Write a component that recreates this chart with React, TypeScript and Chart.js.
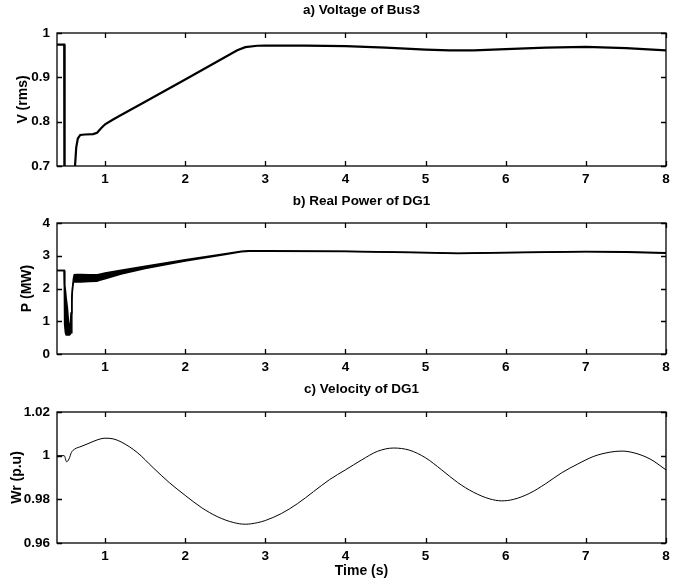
import React, { useEffect, useRef } from "react";
import { Chart, registerables } from "chart.js";

Chart.register(...registerables);

// ---------- data ----------
const timeTicks = [1, 2, 3, 4, 5, 6, 7, 8];

// a) Voltage of Bus3
const vTime = [0.4, 0.49, 0.495, 0.6, 0.625, 0.64, 0.66, 0.69, 0.75, 0.85, 0.9, 0.95, 1.0, 1.1, 1.2, 1.5, 2.0, 2.5, 2.65, 2.75, 2.9, 3.0, 3.5, 4.0, 4.5, 5.0, 5.3, 5.6, 6.0, 6.5, 7.0, 7.5, 8.0];
const vValues = [0.974, 0.974, 0.3, 0.3, 0.7, 0.742, 0.762, 0.77, 0.771, 0.772, 0.775, 0.785, 0.794, 0.805, 0.815, 0.845, 0.895, 0.946, 0.961, 0.968, 0.9712, 0.9718, 0.9715, 0.9705, 0.967, 0.9625, 0.9607, 0.961, 0.9635, 0.967, 0.9686, 0.966, 0.961];
const vTicks = [0.7, 0.8, 0.9, 1];

// b) Real Power of DG1 (oscillation band given by its upper and lower envelope)
const pTime = [0.4, 0.49, 0.495, 0.505, 0.515, 0.53, 0.545, 0.555, 0.565, 0.575, 0.585, 0.595, 0.605, 0.615, 0.65, 0.7, 0.8, 0.9, 0.92, 1.0, 1.2, 1.5, 2.0, 2.5, 2.7, 2.8, 3.0, 4.0, 5.0, 5.4, 6.0, 7.0, 7.5, 8.0];
const pUpper = [2.55, 2.55, 2.1, 1.95, 1.7, 1.4, 0.95, 0.9, 0.85, 1.25, 1.75, 2.05, 2.3, 2.42, 2.43, 2.43, 2.42, 2.42, 2.43, 2.47, 2.56, 2.68, 2.88, 3.06, 3.14, 3.15, 3.15, 3.14, 3.1, 3.08, 3.1, 3.13, 3.12, 3.09];
const pLower = [2.55, 2.55, 0.9, 0.65, 0.58, 0.58, 0.58, 0.58, 0.6, 0.65, 1.6, 2.05, 2.18, 2.2, 2.2, 2.2, 2.21, 2.22, 2.24, 2.3, 2.44, 2.61, 2.84, 3.04, 3.12, 3.14, 3.14, 3.13, 3.09, 3.07, 3.09, 3.12, 3.11, 3.08];
const pTicks = [0, 1, 2, 3, 4];

// c) Velocity of DG1
const wTime = [0.4, 0.49, 0.52, 0.55, 0.58, 0.62, 0.7, 0.8, 0.9, 1.0, 1.1, 1.2, 1.4, 1.6, 1.8, 2.0, 2.2, 2.4, 2.6, 2.75, 2.9, 3.0, 3.2, 3.4, 3.6, 3.8, 4.0, 4.2, 4.4, 4.6, 4.8, 5.0, 5.2, 5.4, 5.6, 5.8, 5.95, 6.1, 6.3, 6.5, 6.7, 6.9, 7.1, 7.3, 7.45, 7.6, 7.8, 8.0];
const wValues = [1.0, 1.0, 0.9972, 0.9985, 1.0015, 1.003, 1.0042, 1.0057, 1.0072, 1.008, 1.0077, 1.0063, 1.0015, 0.9945, 0.9877, 0.9818, 0.9763, 0.9721, 0.9694, 0.9686, 0.9693, 0.9703, 0.9735, 0.978, 0.9835, 0.989, 0.9935, 0.998, 1.002, 1.0035, 1.0025, 0.999, 0.9935, 0.9877, 0.9832, 0.9802, 0.9793, 0.98, 0.9828, 0.9872, 0.9922, 0.9962, 0.9997, 1.0016, 1.0021, 1.0013, 0.9985, 0.9935];
const wTicks = [0.96, 0.98, 1, 1.02];

// ---------- helpers ----------
const FONT = "'Liberation Sans', Arial, Helvetica, sans-serif";
const toPoints = (xs: number[], ys: number[]) => xs.map((x, i) => ({ x, y: ys[i] }));

const boxPlugin = {
  id: "matlabBox",
  afterDatasetsDraw(chart: any) {
    const { ctx, chartArea: a, scales } = chart;
    ctx.save();
    ctx.strokeStyle = "#000";
    ctx.lineWidth = 1.3;
    ctx.strokeRect(a.left, a.top, a.right - a.left, a.bottom - a.top);
    ctx.beginPath();
    const L = 5;
    scales.x.ticks.forEach((t: any) => {
      const px = Math.round(scales.x.getPixelForValue(t.value)) + 0.5;
      ctx.moveTo(px, a.bottom);
      ctx.lineTo(px, a.bottom - L);
      ctx.moveTo(px, a.top);
      ctx.lineTo(px, a.top + L);
    });
    scales.y.ticks.forEach((t: any) => {
      const py = Math.round(scales.y.getPixelForValue(t.value)) + 0.5;
      ctx.moveTo(a.left, py);
      ctx.lineTo(a.left + L, py);
      ctx.moveTo(a.right, py);
      ctx.lineTo(a.right - L, py);
    });
    ctx.stroke();
    ctx.restore();
  },
};

type PanelCfg = {
  top: number;
  height: number;
  plotTop: number;
  plotBottom: number;
  titleY: number;
  title: string;
  yTitle: string;
  yTitlePad: number;
  yMin: number;
  yMax: number;
  yTicks: number[];
  datasets: any[];
  xTitle?: string;
};

function makeConfig(p: PanelCfg): any {
  const lh = 13.5 * 1.2;
  const padTop = p.titleY - p.top - lh / 2;
  const padBottom = p.plotTop - p.top - padTop - lh;
  const xHeight = p.top + p.height - p.plotBottom;
  return {
    type: "line",
    data: { datasets: p.datasets },
    plugins: [boxPlugin],
    options: {
      animation: false,
      responsive: false,
      layout: { padding: { left: 0, right: 16, top: 0, bottom: 0 } },
      plugins: {
        legend: { display: false },
        tooltip: { enabled: false },
        title: {
          display: true,
          text: p.title,
          fullSize: false,
          color: "#000",
          font: { family: FONT, size: 13.5, weight: "bold" },
          padding: { top: padTop, bottom: padBottom },
        },
      },
      elements: { point: { radius: 0 } },
      scales: {
        x: {
          type: "linear",
          min: 0.4,
          max: 8,
          grid: { display: false, drawTicks: false },
          border: { display: false },
          afterBuildTicks: (s: any) => {
            s.ticks = timeTicks.map((v) => ({ value: v }));
          },
          afterFit: (s: any) => {
            s.height = xHeight;
          },
          ticks: {
            color: "#000",
            padding: 5,
            maxRotation: 0,
            autoSkip: false,
            callback: (v: any) => String(v),
            font: { family: FONT, size: 13.5, weight: "bold" },
          },
          title: p.xTitle
            ? {
                display: true,
                text: p.xTitle,
                color: "#000",
                font: { family: FONT, size: 14, weight: "bold" },
                padding: { top: 0, bottom: 2.5 },
              }
            : { display: false },
        },
        y: {
          type: "linear",
          min: p.yMin,
          max: p.yMax,
          grid: { display: false, drawTicks: false },
          border: { display: false },
          afterBuildTicks: (s: any) => {
            s.ticks = p.yTicks.map((v) => ({ value: v }));
          },
          afterFit: (s: any) => {
            s.width = 57;
          },
          ticks: {
            color: "#000",
            padding: 7,
            autoSkip: false,
            callback: (v: any) => String(Number(Number(v).toFixed(4))),
            font: { family: FONT, size: 13.5, weight: "bold" },
          },
          title: {
            display: true,
            text: p.yTitle,
            color: "#000",
            font: { family: FONT, size: 14, weight: "bold" },
            padding: { top: p.yTitlePad, bottom: 0 },
          },
        },
      },
    },
  };
}

function Panel({ cfg }: { cfg: PanelCfg }) {
  const ref = useRef<HTMLCanvasElement | null>(null);
  useEffect(() => {
    if (!ref.current) return;
    const chart = new Chart(ref.current, makeConfig(cfg));
    return () => chart.destroy();
  }, []);
  return (
    <canvas
      ref={ref}
      width={682}
      height={cfg.height}
      style={{ position: "absolute", left: 0, top: cfg.top, width: 682, height: cfg.height }}
    />
  );
}

const panelA: PanelCfg = {
  top: 0,
  height: 190,
  plotTop: 33,
  plotBottom: 166,
  titleY: 10,
  title: "a) Voltage of Bus3",
  yTitle: "V (rms)",
  yTitlePad: 14.4,
  yMin: 0.7,
  yMax: 1,
  yTicks: vTicks,
  datasets: [
    {
      data: toPoints(vTime, vValues),
      borderColor: "#000",
      borderWidth: 2.2,
      tension: 0,
      fill: false,
    },
  ],
};

const panelB: PanelCfg = {
  top: 188,
  height: 192,
  plotTop: 223,
  plotBottom: 354,
  titleY: 201,
  title: "b) Real Power of DG1",
  yTitle: "P (MW)",
  yTitlePad: 18.6,
  yMin: 0,
  yMax: 4,
  yTicks: pTicks,
  datasets: [
    {
      data: toPoints(pTime, pUpper),
      borderColor: "#000",
      borderWidth: 1.5,
      tension: 0,
      fill: false,
    },
    {
      data: toPoints(pTime, pLower),
      borderColor: "#000",
      backgroundColor: "#000",
      borderWidth: 1.5,
      tension: 0,
      fill: "-1",
    },
  ],
};

const panelC: PanelCfg = {
  top: 376,
  height: 206,
  plotTop: 412,
  plotBottom: 543,
  titleY: 389,
  title: "c) Velocity of DG1",
  yTitle: "Wr (p.u)",
  yTitlePad: 8.6,
  yMin: 0.96,
  yMax: 1.02,
  yTicks: wTicks,
  xTitle: "Time (s)",
  datasets: [
    {
      data: toPoints(wTime, wValues),
      borderColor: "#000",
      borderWidth: 1,
      cubicInterpolationMode: "monotone",
      fill: false,
    },
  ],
};

export default function App() {
  return (
    <div style={{ position: "absolute", left: 0, top: 0, width: 682, height: 582, background: "#fff" }}>
      <Panel cfg={panelA} />
      <Panel cfg={panelB} />
      <Panel cfg={panelC} />
    </div>
  );
}
